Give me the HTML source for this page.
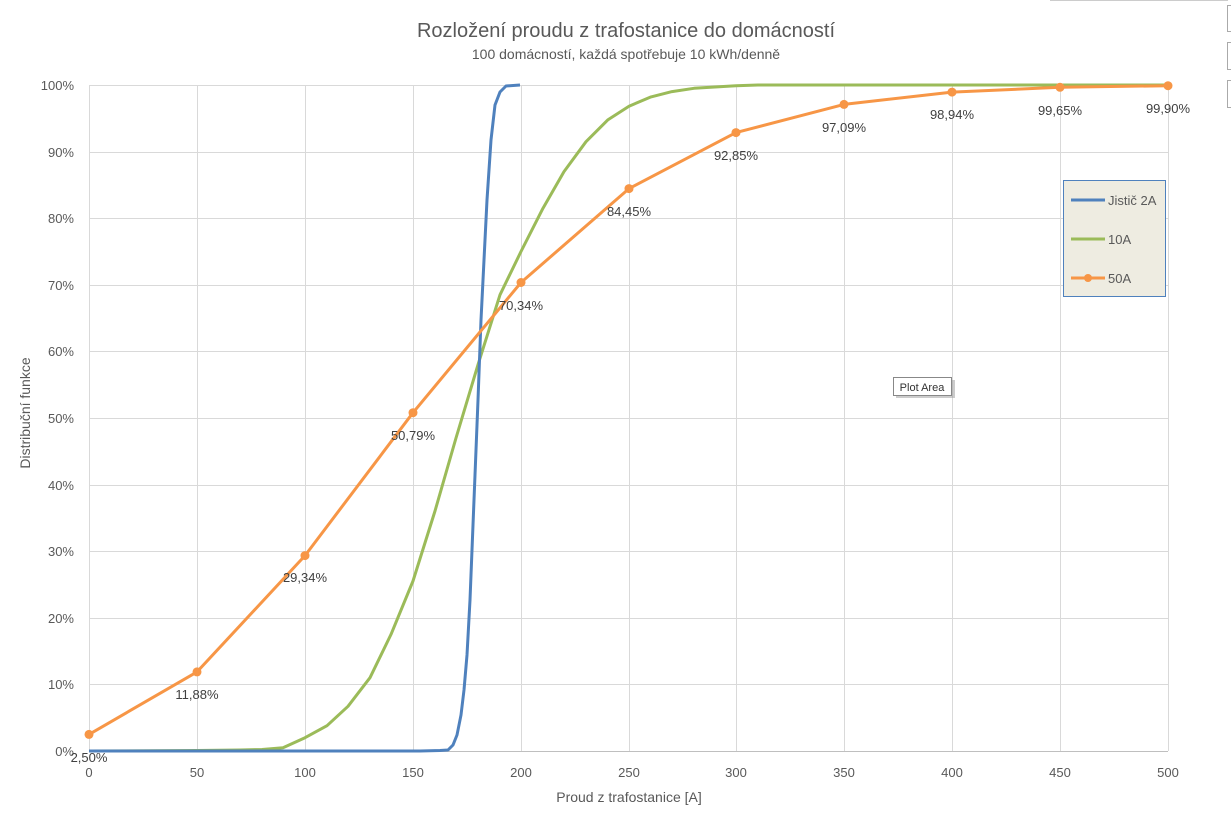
<!DOCTYPE html>
<html><head><meta charset="utf-8"><style>
body{margin:0;background:#fff;}
svg{display:block;font-family:"Liberation Sans","DejaVu Sans",sans-serif;}
</style></head><body>
<svg width="1231" height="824" viewBox="0 0 1231 824">
<line x1="1050" y1="0.5" x2="1228" y2="0.5" stroke="#ccc"/>
<rect x="1227.5" y="5.5" width="6" height="26" fill="#fff" stroke="#aaa"/>
<rect x="1227.5" y="42.5" width="6" height="27" fill="#fff" stroke="#aaa"/>
<rect x="1227.5" y="80.5" width="6" height="27" fill="#fff" stroke="#aaa"/>
<text x="626" y="37" font-size="20" fill="#595959" text-anchor="middle">Rozložení proudu z trafostanice do domácností</text>
<text x="626" y="59" font-size="14" fill="#595959" text-anchor="middle">100 domácností, každá spotřebuje 10 kWh/denně</text>
<g stroke="#d9d9d9" stroke-width="1">
<line x1="89" y1="85.5" x2="1168" y2="85.5"/><line x1="89" y1="152.5" x2="1168" y2="152.5"/><line x1="89" y1="218.5" x2="1168" y2="218.5"/><line x1="89" y1="285.5" x2="1168" y2="285.5"/><line x1="89" y1="351.5" x2="1168" y2="351.5"/><line x1="89" y1="418.5" x2="1168" y2="418.5"/><line x1="89" y1="485.5" x2="1168" y2="485.5"/><line x1="89" y1="551.5" x2="1168" y2="551.5"/><line x1="89" y1="618.5" x2="1168" y2="618.5"/><line x1="89" y1="684.5" x2="1168" y2="684.5"/>
<line x1="89.5" y1="85" x2="89.5" y2="751"/><line x1="197.5" y1="85" x2="197.5" y2="751"/><line x1="305.5" y1="85" x2="305.5" y2="751"/><line x1="413.5" y1="85" x2="413.5" y2="751"/><line x1="521.5" y1="85" x2="521.5" y2="751"/><line x1="629.5" y1="85" x2="629.5" y2="751"/><line x1="736.5" y1="85" x2="736.5" y2="751"/><line x1="844.5" y1="85" x2="844.5" y2="751"/><line x1="952.5" y1="85" x2="952.5" y2="751"/><line x1="1060.5" y1="85" x2="1060.5" y2="751"/><line x1="1168.5" y1="85" x2="1168.5" y2="751"/>
</g>
<line x1="89" y1="751.5" x2="1168" y2="751.5" stroke="#bfbfbf"/>
<g font-size="13" fill="#595959" text-anchor="end">
<text x="74" y="90">100%</text><text x="74" y="157">90%</text><text x="74" y="223">80%</text><text x="74" y="290">70%</text><text x="74" y="356">60%</text><text x="74" y="423">50%</text><text x="74" y="490">40%</text><text x="74" y="556">30%</text><text x="74" y="623">20%</text><text x="74" y="689">10%</text><text x="74" y="756">0%</text>
</g>
<g font-size="13" fill="#595959" text-anchor="middle">
<text x="89" y="777">0</text><text x="197" y="777">50</text><text x="305" y="777">100</text><text x="413" y="777">150</text><text x="521" y="777">200</text><text x="629" y="777">250</text><text x="736" y="777">300</text><text x="844" y="777">350</text><text x="952" y="777">400</text><text x="1060" y="777">450</text><text x="1168" y="777">500</text>
</g>
<text x="629" y="802" font-size="14" fill="#595959" text-anchor="middle">Proud z trafostanice [A]</text>
<text transform="translate(30,413) rotate(-90)" font-size="14" fill="#595959" text-anchor="middle">Distribuční funkce</text>
<polyline fill="none" stroke="#9bbb59" stroke-width="3" stroke-linejoin="round" points="89,751 197,750.5 240,750 262,749.5 283,747.7 305,737.7 327,725.7 348,706.3 370,677.7 391,634.4 413,581 435,511 456,438 478,364.7 500,294.8 521,251.5 543,208.2 564,171.6 586,141.7 608,119.7 629,106.2 651,96.9 672,91.6 694,88.3 736,85.7 758,85 1168,85"/>
<polyline fill="none" stroke="#4f81bd" stroke-width="3" stroke-linejoin="round" points="89,751 420,751 440,750.5 448,750 453,745 457,735 461,715 464,690 467,655 470,600 474,500 478,400 481,320 484,260 487,200 491,140 495,105 500,92 506,86 520,85"/>
<polyline fill="none" stroke="#f79646" stroke-width="3" stroke-linejoin="round" points="89,734.4 197,671.9 305,555.6 413,412.7 521,282.5 629,188.6 736,132.6 844,104.4 952,92.1 1060,87.3 1168,85.7"/>
<g fill="#f79646">
<circle cx="89" cy="734.4" r="4.5"/><circle cx="197" cy="671.9" r="4.5"/><circle cx="305" cy="555.6" r="4.5"/><circle cx="413" cy="412.7" r="4.5"/><circle cx="521" cy="282.5" r="4.5"/><circle cx="629" cy="188.6" r="4.5"/><circle cx="736" cy="132.6" r="4.5"/><circle cx="844" cy="104.4" r="4.5"/><circle cx="952" cy="92.1" r="4.5"/><circle cx="1060" cy="87.3" r="4.5"/><circle cx="1168" cy="85.7" r="4.5"/>
</g>
<g font-size="13" fill="#404040" text-anchor="middle">
<text x="89" y="762">2,50%</text><text x="197" y="699">11,88%</text><text x="305" y="582">29,34%</text><text x="413" y="440">50,79%</text><text x="521" y="310">70,34%</text><text x="629" y="216">84,45%</text><text x="736" y="160">92,85%</text><text x="844" y="132">97,09%</text><text x="952" y="119">98,94%</text><text x="1060" y="115">99,65%</text><text x="1168" y="113">99,90%</text>
</g>
<rect x="1063.5" y="180.5" width="102" height="116" fill="#eeece1" stroke="#4f81bd"/>
<line x1="1071" y1="200" x2="1105" y2="200" stroke="#4f81bd" stroke-width="3"/>
<line x1="1071" y1="239" x2="1105" y2="239" stroke="#9bbb59" stroke-width="3"/>
<line x1="1071" y1="278" x2="1105" y2="278" stroke="#f79646" stroke-width="3"/>
<circle cx="1088" cy="278" r="4" fill="#f79646"/>
<g font-size="13" fill="#595959"><text x="1108" y="205">Jistič 2A</text><text x="1108" y="244">10A</text><text x="1108" y="283">50A</text></g>
<rect x="896" y="380" width="59" height="18" fill="#999" opacity="0.5"/>
<rect x="893.5" y="377.5" width="58" height="18" fill="#fff" stroke="#888"/>
<text x="922" y="391" font-size="11" fill="#333" text-anchor="middle">Plot Area</text>
</svg>
</body></html>
